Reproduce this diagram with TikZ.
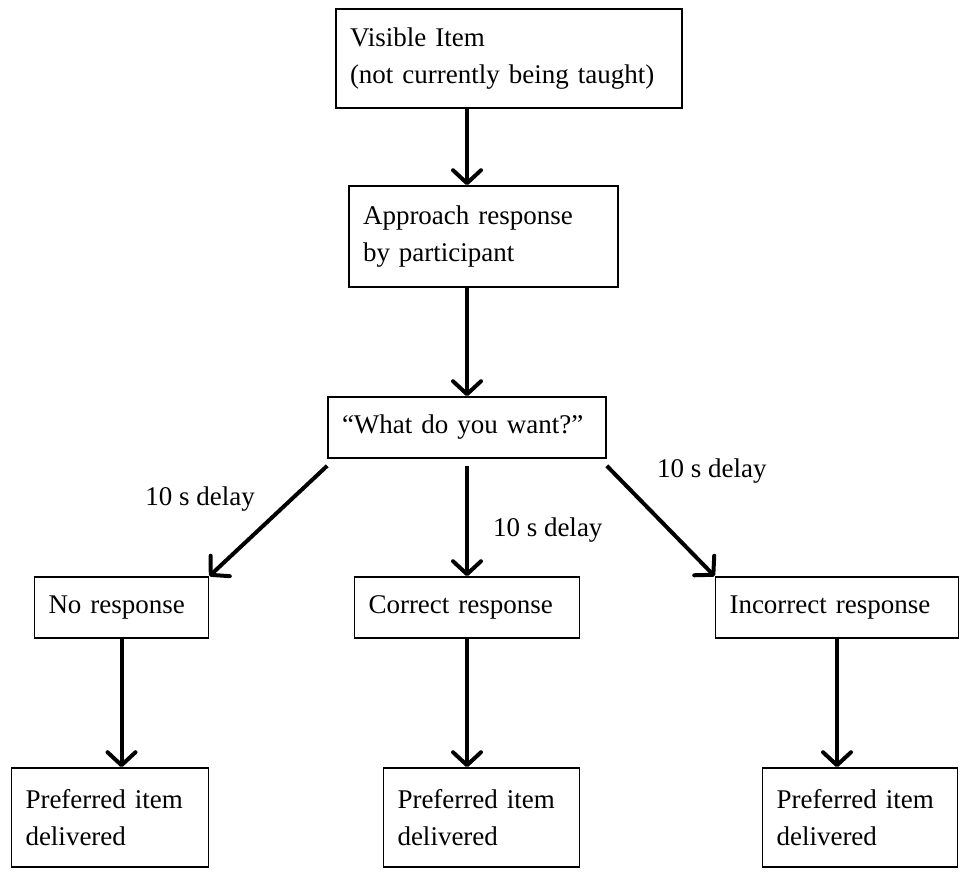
\documentclass[tikz,border=0pt]{standalone}
\usepackage{fontspec}
\setmainfont{Liberation Serif}
\usepackage{tikz}
\usetikzlibrary{arrows.meta}
\tikzstyle{rec} = [rectangle, draw=black, line width=1.6pt, align=left, inner xsep=14pt, font=\fontsize{27}{37}\selectfont]
\tikzstyle{arrow} = [line width=4pt, -{Straight Barb[length=13pt, width=28pt, line width=4pt, round]}]
\tikzstyle{delay} = [inner sep=0pt, font=\fontsize{27}{37}\selectfont]

\begin{document}
\begin{tikzpicture}[node distance=180pt]
		\useasboundingbox (0,0) rectangle (965pt,-871pt);
		\node (visible) [rec, text width=318pt, minimum height=99pt] at (509pt,-58.5pt) {Visible Item\\(not currently being taught)};
		\node (approach) [rec, text width=241pt, minimum height=101pt, below of=visible, yshift=2pt, xshift=-25.5pt] {Approach response\\by participant};
		\node (what) [rec, text width=250pt, minimum height=61pt, below of=approach, yshift=-11pt, xshift=-16.5pt] {``What do you want?''};
		\draw [arrow] (visible.south -| what) -- (approach.north -| what);
		\draw [arrow] (approach.south -| what) -- (what.north);
		\node (correct) [rec, text width=197pt, minimum height=61pt, below of=what] {Correct response};
		\node (none) [rec, text width=146pt, minimum height=61pt, left of=correct, xshift=-165.5pt] {No response};
		\node (incorrect) [rec, text width=215pt, minimum height=61pt, right of=correct, xshift=190pt] {Incorrect response};
		\draw [arrow] ([yshift=-7pt]what.south west) -- node[delay, pos=0.3, left, xshift=-35pt] {10 s delay} (none.north east);
		\draw [arrow] ([yshift=-7pt]what.south) -- node[delay, pos=0.58, right, xshift=24pt] {10 s delay} (correct.north -| what);
		\draw [arrow] ([yshift=-7pt]what.south east) -- node[delay, pos=0.05, right, xshift=43pt] {10 s delay} (incorrect.north west);
		\node (pref1) [rec, text width=169pt, minimum height=99pt, below of=none, yshift=-30pt, xshift=-11.5pt] {Preferred item\\delivered};
		\node (pref2) [rec, text width=168pt, minimum height=99pt, below of=correct, yshift=-30pt, xshift=14.5pt] {Preferred item\\delivered};
		\node (pref3) [rec, text width=167pt, minimum height=99pt, below of=incorrect, yshift=-30pt, xshift=23pt] {Preferred item\\delivered};
		\draw [arrow] (none.south) -- (none.south |- pref1.north);
		\draw [arrow] (correct.south) -- (correct.south |- pref2.north);
		\draw [arrow] (incorrect.south) -- (incorrect.south |- pref3.north);
\end{tikzpicture}
\end{document}
